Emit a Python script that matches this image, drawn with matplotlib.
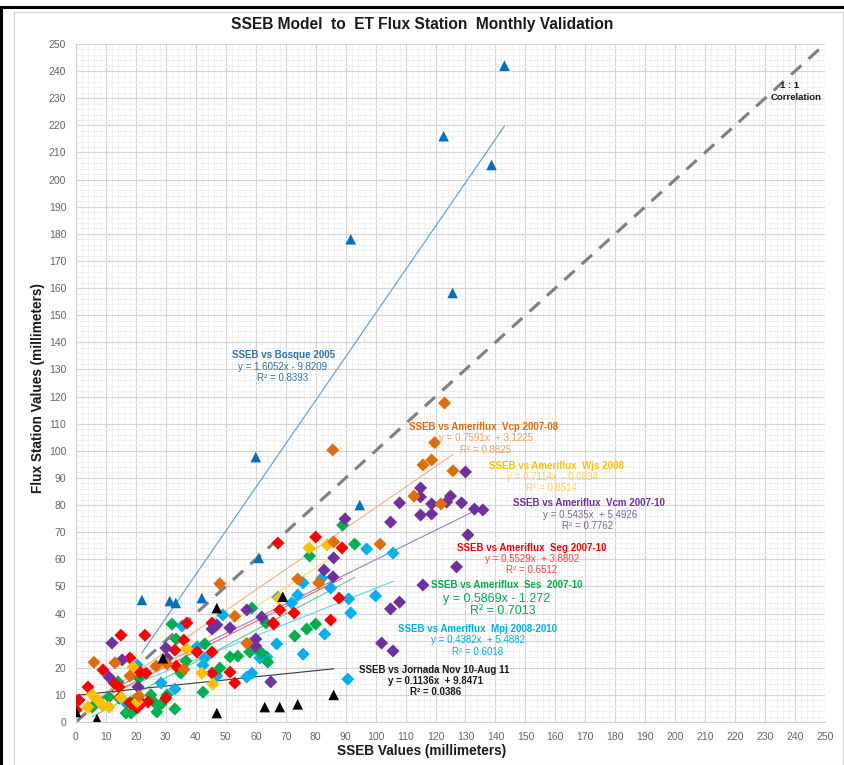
import matplotlib
matplotlib.use("Agg")
import matplotlib.pyplot as plt
from matplotlib.lines import Line2D
from matplotlib.patches import Rectangle
import numpy as np

plt.rcParams['font.family'] = ['Liberation Sans', 'DejaVu Sans']

# ---- station data (SSEB vs flux station monthly ET, mm) ----
bosque_x = [143, 122.7, 138.7, 91.7, 125.7, 60, 94.7, 61, 22, 31.3, 33.3, 42]
bosque_y = [242, 216, 205.4, 178, 158.2, 97.7, 80, 60.5, 45, 44.6, 43.9, 45.7]

jornada_x = [0, 7, 29, 47, 47, 63, 68, 74, 86, 69]
jornada_y = [3.7, 1.1, 23.5, 42, 3.3, 5.5, 5.5, 6.5, 10, 46.2]

vcp_x = [123, 119.7, 118.7, 115.8, 125.8, 112.8, 121.8, 101.5, 85.7, 86, 74, 81, 48,
         6, 13, 18, 21, 26.7, 30.4, 36, 53, 57]
vcp_y = [117.6, 103, 96.6, 94.8, 92.6, 83.3, 80.4, 65.6, 100.3, 66.4, 52.7, 51.3, 51,
         22, 21.8, 17, 9.6, 20.6, 21.4, 19.5, 39, 29]

wjs_x = [5.4, 4, 8.7, 11, 19, 20.4, 37, 42, 45.7, 77.8, 83.8, 67.7, 7.3, 15]
wjs_y = [10, 5.5, 6.3, 5.5, 20.3, 7.4, 27, 18, 14, 64.2, 65.3, 45.7, 8, 9]

vcm_x = [130, 115, 115, 125, 123.7, 118.7, 128.7, 108, 133, 135.8, 115, 118.7, 105,
         130.8, 127, 115.8, 108, 105, 102, 105.8, 89.8, 86, 82.8, 85.8, 62, 12, 15.4,
         11, 20.7, 30, 30.4, 45.4, 47, 51.4, 57, 60, 60, 65]
vcm_y = [92.2, 86.3, 83, 83.3, 81.1, 80.4, 80.8, 80.8, 78.5, 78.2, 76.3, 76.7, 73.7,
         69, 57.2, 50.5, 44.2, 41.7, 29.1, 26.2, 74.9, 60.5, 56, 53.5, 38.7, 29.1, 22.9,
         16.6, 12.9, 27.3, 23.6, 34.3, 35.8, 34.7, 41.3, 30.6, 28, 14.8]

seg_x = [0, 1, 4, 9, 15, 23, 18, 12.7, 14.4, 14.7, 18, 20.4, 22, 24, 21.4, 23.4, 30,
         33, 33.4, 37, 36, 40.4, 45.4, 45.4, 45.4, 51.4, 53, 65.8, 67.4, 80, 88.8, 68,
         72.8, 66, 87.8, 85]
seg_y = [4.4, 8.1, 12.9, 19.2, 32, 32, 23.6, 14.4, 12.9, 9.2, 7, 5.2, 7, 7.4, 18.4,
         18, 8.8, 26.5, 20.6, 36.5, 30.2, 25.8, 36.5, 25.8, 18, 18.4, 14.4, 36.5, 66,
         68.2, 64.2, 41.3, 40.2, 36.1, 45.7, 37.6]

ses_x = [5.4, 11, 14, 14.4, 16.7, 18.4, 20.4, 25, 26, 27, 28.4, 32, 33.4, 33, 35, 36.7,
         42.4, 43, 48, 51.4, 54, 58, 58.7, 62, 64, 63.4, 21, 30.4, 89, 93, 78, 73, 77, 80]
ses_y = [5.5, 9.2, 14.8, 8.8, 3.3, 3.3, 8.8, 10, 7.4, 3.7, 6.6, 36.1, 30.6, 4.8, 18,
         22.5, 11, 28.8, 19.9, 24, 24.3, 25.8, 42, 25.4, 22.1, 36.5, 16.2, 10, 72.6,
         65.6, 61.2, 31.7, 34.3, 36.1]

mpj_x = [20.4, 16.7, 33, 28.4, 35.4, 40.4, 42.4, 43, 47, 49, 57, 58.7, 60.4, 67, 67.4,
         61.4, 75.8, 82, 85, 97, 105.8, 100, 91, 91.7, 83, 75.8, 63.7, 90.7, 72, 74]
mpj_y = [21, 7, 12.2, 14.4, 35.4, 27.7, 21, 23.6, 17, 39.5, 16.6, 18, 26.5, 28.8, 46,
         23.6, 51.3, 53, 49.4, 63.8, 62.3, 46.5, 45.4, 40.2, 32.4, 25, 24, 15.8, 43.9, 46.8]

# trendline coefficients (slope, intercept)
fit_bosque = (1.6052, -9.8209)
fit_vcp = (0.7591, 3.1225)
fit_wjs = (0.7114, -0.0894)
fit_vcm = (0.5435, 5.4926)
fit_seg = (0.5529, 3.8802)
fit_ses = (0.5869, -1.272)
fit_mpj = (0.4382, 5.4882)
fit_jornada = (0.1136, 9.8471)

ticks = list(range(0, 260, 10))

# marker colours and lighter trendline colours
C_BOSQUE, L_BOSQUE = '#0070C0', '#5B9BD5'
C_VCP, L_VCP = '#E36C09', '#F4B183'
C_WJS, L_WJS = '#FFC000', '#FFD966'
C_VCM, L_VCM = '#7030A0', '#9E7CC1'
C_SEG, L_SEG = '#FF0000', '#FF6161'
C_SES, L_SES = '#00B050', '#5CCB8A'
C_MPJ, L_MPJ = '#00B0F0', '#66D0F5'
C_JOR, L_JOR = '#000000', '#3a3a3a'

W, H = 845, 765
fig = plt.figure(figsize=(W / 100, H / 100), dpi=100)
fig.patch.set_facecolor('white')

# page frame
fig.add_artist(Rectangle((14 / W, 0), (843 - 14) / W, 1 - 12 / H, transform=fig.transFigure,
                         fill=False, edgecolor='#d0d0d0', linewidth=0.8))
fig.add_artist(Line2D([0, 1], [1 - 7 / H, 1 - 7 / H], transform=fig.transFigure,
                      color='black', linewidth=2.2))
fig.add_artist(Line2D([1.5 / W, 1.5 / W], [0, 1 - 7 / H], transform=fig.transFigure,
                      color='black', linewidth=2.2))

ax = fig.add_axes([76 / W, 1 - 722 / H, (825 - 76) / W, (722 - 44) / H])
ax.set_xlim(0, 250)
ax.set_ylim(0, 250)
ax.set_xticks(ticks)
ax.set_yticks(ticks)
ax.set_xticks(np.arange(0, 251, 2), minor=True)
ax.set_yticks(np.arange(0, 251, 2), minor=True)
ax.grid(which='major', color='#d4d4d4', linewidth=0.8)
ax.grid(which='minor', color='#efefef', linewidth=0.6)
ax.set_axisbelow(True)
for s in ['top', 'right']:
    ax.spines[s].set_visible(False)
for s in ['left', 'bottom']:
    ax.spines[s].set_color('#d0d0d0')
    ax.spines[s].set_linewidth(0.8)
ax.tick_params(which='both', length=0, labelsize=7.5, labelcolor='#666666', pad=7)

# 1:1 line
ax.plot([0, 250], [0, 250], color='#7f7f7f', linestyle=(0, (4.5, 3.2)), linewidth=2.2, zorder=2)


def trend(xs, fit, color):
    x0, x1 = min(xs), max(xs)
    xx = np.array([x0, x1])
    ax.plot(xx, fit[0] * xx + fit[1], color=color, linewidth=0.8, zorder=3)


series = [
    (mpj_x, mpj_y, C_MPJ, L_MPJ, fit_mpj),
    (ses_x, ses_y, C_SES, L_SES, fit_ses),
    (seg_x, seg_y, C_SEG, L_SEG, fit_seg),
    (vcm_x, vcm_y, C_VCM, L_VCM, fit_vcm),
    (wjs_x, wjs_y, C_WJS, L_WJS, fit_wjs),
    (vcp_x, vcp_y, C_VCP, L_VCP, fit_vcp),
]
for xs, ys, c, lc, f in series:
    ax.scatter(xs, ys, marker='D', s=44, color=c, edgecolors='none', zorder=4)
for xs, ys, c, lc, f in series:
    trend(xs, f, lc)

ax.scatter(bosque_x, bosque_y, marker='^', s=58, color=C_BOSQUE, edgecolors='none', zorder=5)
trend(bosque_x, fit_bosque, L_BOSQUE)
ax.scatter(jornada_x, jornada_y, marker='^', s=58, color=C_JOR, edgecolors='none', zorder=5)
trend(jornada_x, fit_jornada, L_JOR)

# titles
fig.text(422 / W, 1 - 24 / H, 'SSEB Model  to  ET Flux Station  Monthly Validation',
         ha='center', va='center', fontsize=11.2, fontweight='bold', color='#1a1a1a')
fig.text(422 / W, 1 - 751 / H, 'SSEB Values (millimeters)', ha='center', va='center',
         fontsize=9.8, fontweight='bold', color='#1a1a1a')
fig.text(38 / W, 1 - 388 / H, 'Flux Station Values (millimeters)', ha='center', va='center',
         rotation=90, fontsize=9.8, fontweight='bold', color='#1a1a1a')


def label(px, py, txt, color, size=7, bold=False):
    fig.text(px / W, 1 - py / H, txt, ha='center', va='center', fontsize=size,
             fontweight='bold' if bold else 'normal', color=color)


label(790, 86, '1 : 1', '#1a1a1a', 6.8, True)
label(796, 97, 'Correlation', '#1a1a1a', 6.8, True)

label(283, 355, 'SSEB vs Bosque 2005', '#2E75B6', 7, True)
label(283, 367, 'y = 1.6052x - 9.8209', '#2E75B6')
label(283, 378, 'R\u00b2 = 0.8393', '#2E75B6')

label(484, 427, 'SSEB vs Ameriflux  Vcp 2007-08', C_VCP, 7, True)
label(486, 438, 'y = 0.7591x  + 3.1225', '#F0A060')
label(486, 450, 'R\u00b2 = 0.8825', '#F0A060')

label(556, 466, 'SSEB vs Ameriflux  Wjs 2008', C_WJS, 7, True)
label(552, 477, 'y = 0.7114x  - 0.0894', '#FFD050')
label(552, 488, 'R\u00b2 = 0.8514', '#FFD050')

label(589, 503, 'SSEB vs Ameriflux  Vcm 2007-10', C_VCM, 7, True)
label(590, 515, 'y = 0.5435x  + 5.4926', '#8064A2')
label(588, 526, 'R\u00b2 = 0.7762', '#8064A2')

label(532, 548, 'SSEB vs Ameriflux  Seg 2007-10', C_SEG, 7, True)
label(532, 559, 'y = 0.5529x  + 3.8802', '#FF4040')
label(532, 570, 'R\u00b2 = 0.6512', '#FF4040')

label(507, 585, 'SSEB vs Ameriflux  Ses  2007-10', C_SES, 7, True)
label(497, 599, 'y = 0.5869x - 1.272', C_SES, 9)
label(503, 611, 'R\u00b2 = 0.7013', C_SES, 9)

label(478, 629, 'SSEB vs Ameriflux  Mpj 2008-2010', C_MPJ, 7, True)
label(478, 640, 'y = 0.4382x  + 5.4882', C_MPJ)
label(478, 652, 'R\u00b2 = 0.6018', C_MPJ)

label(434, 670, 'SSEB vs Jornada Nov 10-Aug 11', '#1a1a1a', 7, True)
label(436, 681, 'y = 0.1136x  + 9.8471', '#1a1a1a', 7, True)
label(436, 692, 'R\u00b2 = 0.0386', '#1a1a1a', 7, True)

fig.savefig('out.png', dpi=100, facecolor='white')
